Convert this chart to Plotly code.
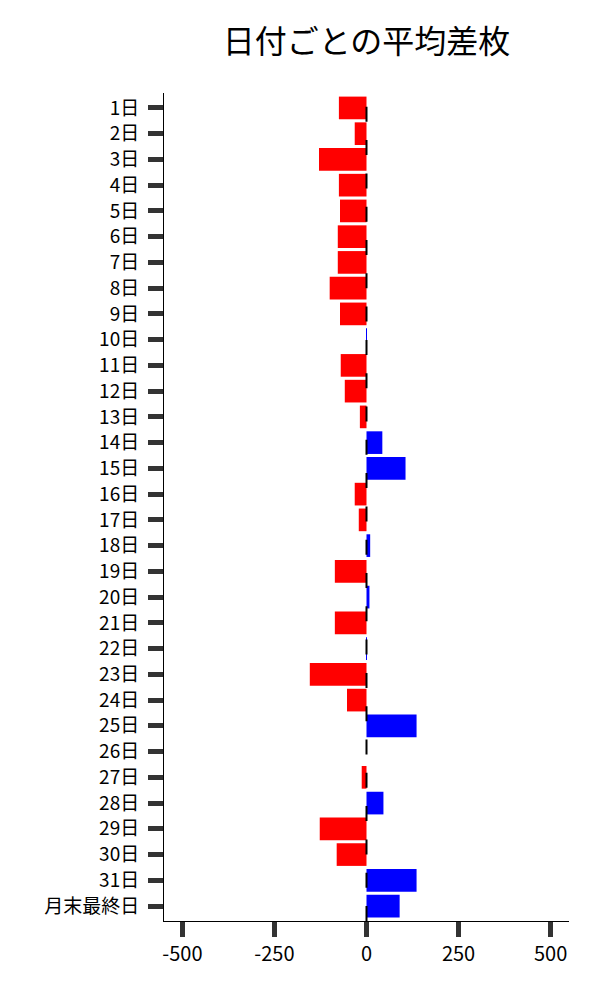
# 日付ごとの平均差枚 (horizontal bar chart)
import plotly.graph_objects as go

days = [f'{d}日' for d in range(1, 32)] + ['月末最終日']

# average difference per day
avg_diff = [
    -75, -32, -129, -75, -72, -78, -78, -100, -72, 1,
    -70, -59, -18, 43, 106, -32, -21, 10, -86, 8,
    -86, 1, -154, -53, 136, 0, -13, 46, -127, -81,
    136, 90,
]

x_ticks = [-500, -250, 0, 250, 500]

colors = ['blue' if v > 0 else 'red' for v in avg_diff]

fig = go.Figure()

fig.add_trace(go.Bar(
    x=avg_diff, y=days, orientation='h',
    marker=dict(color=colors, line=dict(width=0)),
    showlegend=False,
))

# zero line (dashed)
fig.add_shape(
    type='line', xref='x', yref='paper',
    x0=0, x1=0, y0=0, y1=1,
    line=dict(color='black', width=2, dash='15px,18.3px'),
    layer='above',
)

font_name = 'Noto Sans CJK JP'

# page body has an 8px margin, so the figure is sized to fit inside it
fig.update_layout(
    width=584, height=984,
    title=dict(text='日付ごとの平均差枚', x=0.5, xref='paper', y=0.966, yanchor='middle',
               font=dict(family=font_name, size=32, color='black')),
    font=dict(family=font_name, color='black'),
    plot_bgcolor='white',
    paper_bgcolor='white',
    bargap=0.12,
    margin=dict(l=156, r=23, t=85, b=71),
)

fig.update_xaxes(
    range=[-550, 550], tickvals=x_ticks, ticktext=[str(v) for v in x_ticks],
    showgrid=False, zeroline=False,
    showline=True, linecolor='black', linewidth=1,
    ticks='outside', ticklen=15, tickwidth=5, tickcolor='#333333',
    tickfont=dict(family=font_name, size=20, color='black'),
    automargin=False,
)
fig.update_yaxes(
    range=[31.58, -0.58], type='category',
    showgrid=False, zeroline=False,
    showline=True, linecolor='black', linewidth=1,
    ticks='outside', ticklen=15, tickwidth=5, tickcolor='#333333',
    tickfont=dict(family=font_name, size=19, color='black'),
    ticklabelstandoff=5,
    automargin=False,
)

fig.write_html('out.html')
